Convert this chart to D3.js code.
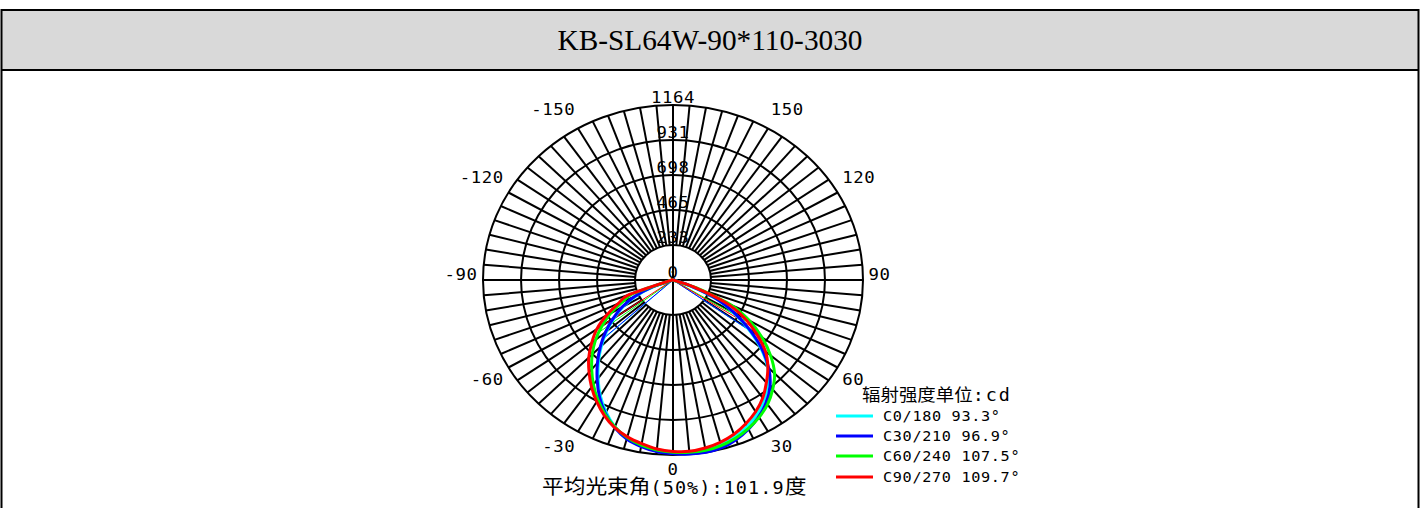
<!DOCTYPE html>
<html><head><meta charset="utf-8">
<script src="https://cdn.jsdelivr.net/npm/d3@7"></script>
<style>html,body{margin:0;padding:0;background:#fff;overflow:hidden} svg{display:block}</style>
</head><body><svg id="c" width="1421" height="508"></svg>
<script>
const title = "KB-SL64W-90*110-3030";
const gammaAngles = [-90,-85,-80,-75,-70,-65,-60,-55,-50,-45,-40,-35,-30,-25,-20,-15,-10,-5,0,5,10,15,20,25,30,35,40,45,50,55,60,65,70,75,80,85,90];
const c0_180  = [0,0,0,0,120,250,350,440,530,620,710,800,890,970,1040,1090,1120,1140,1150,1155,1150,1135,1110,1075,1030,975,905,820,700,560,420,280,100,0,0,0,0];
const c30_210 = [0,0,0,0,130,260,360,450,540,630,720,810,900,980,1045,1095,1125,1145,1155,1162,1164,1155,1130,1095,1050,995,925,830,710,570,430,290,110,0,0,0,0];
const c60_240 = [0,0,0,20,260,340,440,530,620,700,775,850,920,985,1040,1085,1115,1135,1145,1150,1150,1140,1120,1090,1055,1010,950,880,780,665,540,390,150,0,0,0,0];
const c90_270 = [0,0,0,30,290,370,470,570,650,730,800,870,935,995,1045,1080,1105,1128,1140,1144,1135,1118,1092,1055,1012,958,890,822,740,625,505,355,130,0,0,0,0];
const seriesNames = ["C0/180 93.3°","C30/210 96.9°","C60/240 107.5°","C90/270 109.7°"];
const seriesColors = ["#00ffff","#0000ff","#00ff00","#ff0000"];
const ringValues = [233,465,698,931,1164];
const radialLabels = ["0","233","465","698","931","1164"];
const radialLabelValues = [0,233,465,698,931,1164];
const angleLabelValues = [0,30,60,90,120,150,-150,-120,-90,-60,-30];
const unitLabelCJK = "辐射强度单位";
const unitLabelAscii = ":cd";
const footerParts = [["平均光束角","cjk"],["(50%):101.9","asc"],["度","cjk"]];

const W = 1421, H = 508;
const svg = d3.select("#c");
const maxV = 1164;
const R = 175;            // vertical radius in px
const SX = 190 / 175;     // horizontal stretch of the source image
const CX = 673, CY = 280;

// frame + header
svg.append("rect").attr("x",1).attr("y",10).attr("width",1418).attr("height",60)
  .attr("fill","#d9d9d9").attr("stroke","none");
svg.append("line").attr("x1",1).attr("x2",1419).attr("y1",10).attr("y2",10).attr("stroke","#000").attr("stroke-width",2);
svg.append("line").attr("x1",1).attr("x2",1419).attr("y1",70).attr("y2",70).attr("stroke","#000").attr("stroke-width",2);
svg.append("line").attr("x1",1.5).attr("x2",1.5).attr("y1",9).attr("y2",H).attr("stroke","#000").attr("stroke-width",2);
svg.append("line").attr("x1",1418.5).attr("x2",1418.5).attr("y1",9).attr("y2",H).attr("stroke","#000").attr("stroke-width",2);
svg.append("text").attr("x",710).attr("y",50).attr("text-anchor","middle")
  .attr("font-family","'Liberation Serif','Times New Roman',serif").attr("font-size",30)
  .attr("textLength",305).attr("lengthAdjust","spacingAndGlyphs")
  .attr("fill","#000").text(title);

const r = d3.scaleLinear().domain([0, maxV]).range([0, R]);
const toRad = g => Math.PI - g * Math.PI / 180;   // gamma 0 = down, +90 = right

const g = svg.append("g").attr("transform",`translate(${CX},${CY}) scale(${SX},1)`);
const grid = g.append("g").attr("stroke","#000").attr("stroke-width",2).attr("fill","none");

ringValues.forEach(v => {
  grid.append("ellipse").attr("rx", r(v)).attr("ry", r(v)).attr("vector-effect","non-scaling-stroke");
});
const spokeAngles = d3.range(0, 360, 5);
spokeAngles.forEach(a => {
  const rad = a * Math.PI / 180;
  const inner = (a % 90 === 0) ? 0 : r(ringValues[0]);
  grid.append("line")
    .attr("x1", inner * Math.sin(rad)).attr("y1", inner * Math.cos(rad))
    .attr("x2", R * Math.sin(rad)).attr("y2", R * Math.cos(rad))
    .attr("vector-effect","non-scaling-stroke");
});

const txtFont = "'DejaVu Sans Mono', monospace";
const cjkFont = "'Noto Sans CJK SC', sans-serif";
// radial labels
radialLabelValues.forEach((v, i) => {
  g.append("text").attr("x", 0).attr("y", -r(v) - 2).attr("text-anchor","middle")
    .attr("font-family", txtFont).attr("font-size", 16).attr("letter-spacing", 0.5)
    .attr("fill","#000").text(radialLabels[i]);
});
// angle labels
angleLabelValues.forEach(a => {
  const rad = a * Math.PI / 180;
  const s = Math.sin(rad), c = Math.cos(rad);
  const anchor = Math.abs(s) < 1e-6 ? "middle" : (s > 0 ? "start" : "end");
  const ac = Math.abs(c);
  // layout tweak: labels at 60/120 sit a little further out than those at 30/150
  const extra = (Math.abs(ac - 0.5) < 1e-6) ? 7 : 0;
  let y = c * (R + 20 + extra) - 2;
  if (ac < 1e-6) y = -6;
  if (a === 0) y = R + 14;
  g.append("text")
    .attr("x", s * (R + 5)).attr("y", y)
    .attr("dy", "0.35em").attr("text-anchor", anchor)
    .attr("font-family", txtFont).attr("font-size", 16).attr("letter-spacing", 0.5)
    .attr("fill","#000").text(String(a));
});

const allSeries = [c0_180, c30_210, c60_240, c90_270];
const line = d3.lineRadial().angle(d => toRad(d[0])).radius(d => r(d[1])).curve(d3.curveCardinal.tension(0.3));

// half-maximum beam lines (thin)
allSeries.forEach((vals, si) => {
  const mx = d3.max(vals), half = mx / 2, im = vals.indexOf(mx);
  const pts = [];
  for (let i = im; i > 0; i--) {
    if (vals[i-1] <= half) { const t = (vals[i]-half)/(vals[i]-vals[i-1]); pts.push(gammaAngles[i] + t*(gammaAngles[i-1]-gammaAngles[i])); break; }
  }
  for (let i = im; i < vals.length-1; i++) {
    if (vals[i+1] <= half) { const t = (vals[i]-half)/(vals[i]-vals[i+1]); pts.push(gammaAngles[i] + t*(gammaAngles[i+1]-gammaAngles[i])); break; }
  }
  pts.forEach(a => {
    const rad = a * Math.PI / 180;
    g.append("line").attr("x1",0).attr("y1",0)
      .attr("x2", r(half)*Math.sin(rad)).attr("y2", r(half)*Math.cos(rad))
      .attr("stroke", seriesColors[si]).attr("stroke-width", 1).attr("vector-effect","non-scaling-stroke");
  });
});

allSeries.forEach((vals, si) => {
  g.append("path").datum(gammaAngles.map((a, i) => [a, vals[i]]))
    .attr("d", line).attr("fill","none").attr("stroke", seriesColors[si])
    .attr("stroke-width", 3).attr("stroke-linejoin","round").attr("vector-effect","non-scaling-stroke");
});

// legend (screen coordinates converted into the stretched group)
const px = X => (X - CX) / SX, py = Y => Y - CY;
const ut = g.append("text").attr("x", px(862)).attr("y", py(401)).attr("fill","#000");
ut.append("tspan").attr("font-family", cjkFont).attr("font-size", 17).text(unitLabelCJK);
ut.append("tspan").attr("font-family", txtFont).attr("font-size", 17).attr("letter-spacing", 1.8).text(unitLabelAscii);
const legY = [416, 436, 456, 477];
seriesNames.forEach((n, i) => {
  g.append("line").attr("x1", px(836)).attr("x2", px(873)).attr("y1", py(legY[i])).attr("y2", py(legY[i]))
    .attr("stroke", seriesColors[i]).attr("stroke-width", 3).attr("vector-effect","non-scaling-stroke");
  g.append("text").attr("x", px(883)).attr("y", py(legY[i])).attr("dy","0.35em")
    .attr("font-family", txtFont).attr("font-size", 14).attr("letter-spacing", 0.6)
    .attr("fill","#000").text(n);
});
const ft = g.append("text").attr("x", px(542)).attr("y", py(494)).attr("fill","#000");
footerParts.forEach(([t, k]) => {
  if (k === "cjk") ft.append("tspan").attr("font-family", cjkFont).attr("font-size", 20).text(t);
  else ft.append("tspan").attr("font-family", txtFont).attr("font-size", 17).attr("letter-spacing", 1).text(t);
});
</script></body></html>
